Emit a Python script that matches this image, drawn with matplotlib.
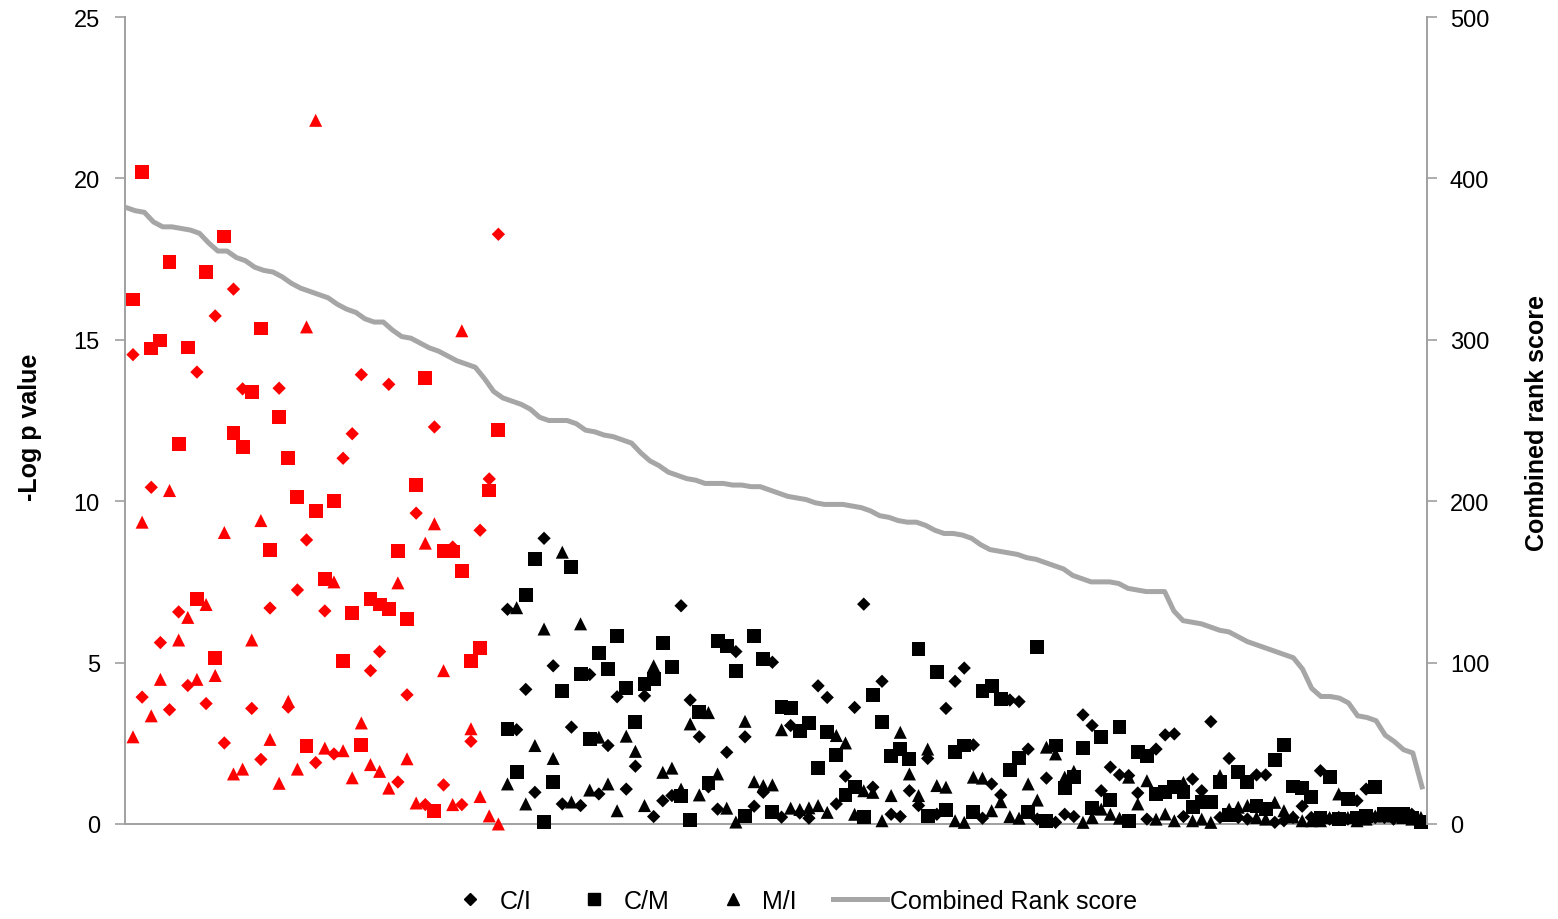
# imports
import numpy as np
import matplotlib
matplotlib.use('Agg')
import matplotlib.pyplot as mpp
from matplotlib.lines import Line2D

"""
Per-gene -log p values for the three comparisons, genes ordered by
combined rank score (highest first). The first n_top genes are flagged red.
"""

n_top = 41

ci = [14.54, 3.93, 10.43, 5.62, 3.54, 6.57, 4.29, 14.0, 3.73, 15.74,
      2.51, 16.57, 13.48, 3.58, 2.0, 6.69, 13.5, 3.62, 7.25, 8.8,
      1.9, 6.6, 2.17, 11.33, 12.09, 13.92, 4.75, 5.34, 13.62, 1.3,
      4.0, 9.63, 0.6, 12.3, 1.21, 8.58, 0.6, 2.56, 9.1, 10.69,
      18.27,
      6.65, 2.92, 4.17, 0.98, 8.85, 4.9, 0.62, 3.0, 0.57, 4.63,
      0.93, 2.43, 3.94, 1.08, 1.79, 3.97, 0.23, 0.72, 0.88, 6.76,
      3.84, 2.7, 1.15, 0.46, 2.22, 5.34, 2.7, 0.55, 0.98, 5.01,
      0.21, 3.05, 0.34, 0.18, 4.28, 3.92, 0.62, 1.48, 3.61, 6.81,
      1.14, 4.42, 0.3, 0.23, 1.03, 0.57, 2.03, 0.3, 3.58, 4.42,
      4.83, 2.45, 0.18, 1.24, 0.9, 3.84, 3.79, 2.32, 0.15, 1.42,
      0.05, 0.3, 0.23, 3.38, 3.05, 1.03, 1.76, 1.52, 1.5, 0.96,
      0.15, 2.32, 2.76, 2.79, 0.23, 1.39, 1.03, 3.17, 0.2, 2.03,
      0.2, 0.15, 1.52, 1.52, 0.05, 0.1, 0.2, 0.55, 0.2, 1.65,
      0.15, 0.2, 0.15, 0.72, 1.08, 0.2, 0.2, 0.15, 0.25, 0.3, 0.1]

cm = [16.25, 20.2, 14.73, 14.98, 17.4, 11.77, 14.76, 6.96, 17.1, 5.13,
      18.2, 12.12, 11.69, 13.39, 15.35, 8.5, 12.6, 11.34, 10.13, 2.41,
      9.69, 7.58, 10.0, 5.04, 6.53, 2.46, 6.96, 6.8, 6.65, 8.45,
      6.34, 10.5, 13.82, 0.4, 8.47, 8.44, 7.84, 5.04, 5.45, 10.33,
      12.2,
      2.94, 1.62, 7.09, 8.21, 0.07, 1.31, 4.13, 7.97, 4.65, 2.63,
      5.3, 4.8, 5.83, 4.21, 3.15, 4.34, 4.49, 5.6, 4.87, 0.88,
      0.12, 3.46, 1.27, 5.68, 5.52, 4.75, 0.26, 5.83, 5.11, 0.38,
      3.61, 3.58, 2.89, 3.13, 1.74, 2.86, 2.15, 0.9, 1.14, 0.21,
      4.0, 3.17, 2.1, 2.32, 2.01, 5.42, 0.26, 4.7, 0.43, 2.24,
      2.43, 0.36, 4.13, 4.28, 3.87, 1.68, 2.03, 0.36, 5.49, 0.1,
      2.43, 1.11, 1.45, 2.36, 0.49, 2.69, 0.74, 3.01, 0.1, 2.22,
      2.1, 0.93, 0.98, 1.14, 0.98, 0.52, 0.67, 0.69, 1.29, 0.28,
      1.62, 1.29, 0.55, 0.46, 1.99, 2.45, 1.16, 1.11, 0.83, 0.2,
      1.45, 0.15, 0.77, 0.2, 0.25, 1.14, 0.3, 0.3, 0.3, 0.2, 0.05]

mi = [2.7, 9.35, 3.35, 4.48, 10.33, 5.7, 6.4, 4.48, 6.8, 4.6,
      9.03, 1.55, 1.7, 5.7, 9.4, 2.62, 1.26, 3.8, 1.7, 15.4,
      21.8, 2.35, 7.5, 2.27, 1.43, 3.13, 1.84, 1.63, 1.11, 7.47,
      2.02, 0.65, 8.7, 9.3, 4.75, 0.6, 15.28, 2.95, 0.85, 0.25,
      0.0,
      1.24, 6.7, 0.62, 2.43, 6.04, 2.03, 8.42, 0.68, 6.2, 1.05,
      2.69, 1.24, 0.41, 2.72, 2.25, 0.57, 4.9, 1.6, 1.73, 1.08,
      3.1, 0.9, 3.45, 1.55, 0.49, 0.06, 3.18, 1.31, 1.19, 1.21,
      2.92, 0.49, 0.45, 0.5, 0.57, 0.36, 2.74, 2.51, 0.3, 1.03,
      0.98, 0.1, 0.88, 2.84, 1.55, 0.88, 2.32, 1.19, 1.14, 0.1,
      0.05, 1.45, 1.42, 0.41, 0.69, 0.23, 0.18, 1.24, 0.74, 2.38,
      2.17, 1.45, 1.63, 0.05, 0.2, 0.46, 0.3, 0.18, 1.45, 0.62,
      1.34, 0.15, 0.31, 0.1, 1.29, 0.1, 0.15, 0.05, 1.5, 0.46,
      0.52, 0.57, 0.2, 0.15, 0.67, 0.41, 0.22, 0.1, 0.1, 0.1,
      0.2, 0.93, 0.2, 0.1, 0.15, 0.25, 0.25, 0.25, 0.2, 0.15, 0.2]

rank_score = [382, 380, 379, 373, 370, 370, 369, 368, 366, 360,
              355, 355, 351, 349, 345, 343, 342, 339, 335, 332,
              330, 328, 326, 322, 319, 317, 313, 311, 311, 306,
              302, 301, 298, 295, 293, 290, 287, 285, 283, 276,
              268, 264, 262, 260, 257, 252, 250, 250, 250, 248,
              244, 243, 241, 240, 238, 236, 230, 225, 222, 218,
              216, 214, 213, 211, 211, 211, 210, 210, 209, 209,
              207, 205, 203, 202, 201, 199, 198, 198, 198, 197,
              196, 194, 191, 190, 188, 187, 187, 185, 182, 180,
              180, 179, 177, 173, 170, 169, 168, 167, 165, 164,
              162, 160, 158, 154, 152, 150, 150, 150, 149, 146,
              145, 144, 144, 144, 132, 126, 125, 124, 122, 120,
              119, 116, 113, 111, 109, 107, 105, 103, 96, 84,
              79, 79, 78, 75, 67, 66, 64, 55, 51, 46,
              44, 23]

mpp.rcParams['font.family'] = ['Liberation Sans', 'DejaVu Sans']

axis_grey = '#a0a0a0'
line_grey = '#a6a6a6'

n = len(ci)
genes = np.arange(1, n + 1)
colors = np.where(genes <= n_top, '#ff0000', '#000000')

fig = mpp.figure(figsize=(15.58, 9.2), dpi=100)
rect = [0.0802, 0.1033, 0.8357, 0.8771]

# primary axis: -log p scatter (markers not clipped at the baseline)
ax = fig.add_axes(rect)
ax.scatter(genes, ci, marker='D', s=46, c=colors, linewidths=0,
           zorder=3, clip_on=False)
ax.scatter(genes, cm, marker='s', s=100, c=colors, linewidths=0,
           zorder=3, clip_on=False)
ax.scatter(genes, mi, marker='^', s=88, c=colors, linewidths=0,
           zorder=3, clip_on=False)

ax.set_xlim(0.12, n + 0.66)
ax.set_ylim(0, 25)
ax.set_yticks(np.arange(0, 26, 5))
ax.set_xticks([])
ax.tick_params(axis='y', direction='out', length=7, width=1.2,
               color=axis_grey, labelsize=17, pad=11)
for side in ['top', 'right']:
    ax.spines[side].set_visible(False)
for side in ['left', 'bottom']:
    ax.spines[side].set_color(axis_grey)
    ax.spines[side].set_linewidth(1.4)

# secondary axis: combined rank score line
ax2 = fig.add_axes(rect)
ax2.patch.set_visible(False)
ax2.plot(np.arange(len(rank_score)), rank_score, color=line_grey,
         lw=3.6, solid_joinstyle='round', zorder=2)
ax2.set_xlim(-0.11, len(rank_score) - 1 + 0.54)
ax2.set_ylim(0, 500)
ax2.set_yticks(np.arange(0, 501, 100))
ax2.set_xticks([])
ax2.yaxis.tick_right()
ax2.tick_params(axis='y', direction='out', length=7, width=1.2,
                color=axis_grey, labelsize=17, pad=9.5)
for side in ['top', 'left', 'bottom']:
    ax2.spines[side].set_visible(False)
ax2.spines['right'].set_color(axis_grey)
ax2.spines['right'].set_linewidth(1.4)

fig.text(0.019, 0.536, '-Log p value', rotation=90, ha='center',
         va='center', fontsize=18, fontweight='bold')
fig.text(0.9865, 0.540, 'Combined rank score', rotation=90, ha='center',
         va='center', fontsize=18, fontweight='bold')

handles = [Line2D([], [], ls='none', marker='D', ms=6, color='black'),
           Line2D([], [], ls='none', marker='s', ms=8.5, color='black'),
           Line2D([], [], ls='none', marker='^', ms=8.5, color='black'),
           Line2D([], [], color=line_grey, lw=3.6)]
labels = ['C/I', 'C/M', 'M/I', 'Combined Rank score']
fig.legend(handles, labels, loc='center', bbox_to_anchor=(0.507, 0.0196),
           ncol=4, frameon=False, fontsize=18, handlelength=2.16,
           handletextpad=0.1, columnspacing=1.45)

mpp.savefig('out.png', dpi=100)
